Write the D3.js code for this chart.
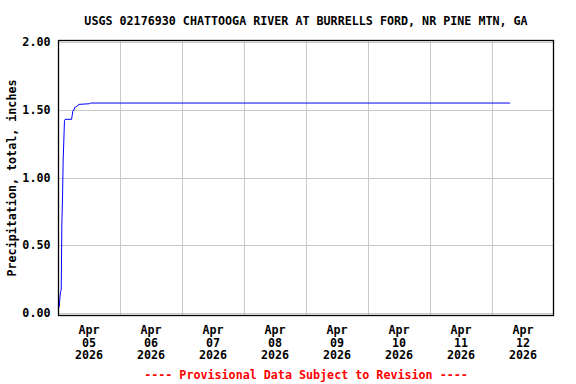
<!DOCTYPE html>
<html><head><meta charset="utf-8">
<script src="https://cdn.jsdelivr.net/npm/d3@7"></script>
<style>
html,body{margin:0;padding:0;background:#fff;}
text{font-family:"DejaVu Sans Mono","Liberation Mono",monospace;font-weight:bold;font-size:11.7px;}
</style></head>
<body>
<svg id="chart" width="576" height="384"></svg>
<script>
const title = "USGS 02176930 CHATTOOGA RIVER AT BURRELLS FORD, NR PINE MTN, GA";
const yLabel = "Precipitation, total, inches";
const footer = "---- Provisional Data Subject to Revision ----";
// times: hours after 2026-04-05 00:00
const hours = [0.25,0.5,0.75,1.0,1.25,1.5,1.75,2.0,2.25,2.5,2.75,5.25,5.5,5.75,6.0,6.25,6.5,6.75,7.5,7.75,8.0,12.25,12.5,175];
const values = [0.04,0.05,0.12,0.16,0.17,0.67,0.85,1.13,1.27,1.42,1.43,1.43,1.46,1.49,1.50,1.50,1.52,1.52,1.53,1.53,1.54,1.545,1.55,1.55];
const yTicks = [0,0.5,1,1.5,2];
const dayLabels = ["Apr\n05\n2026","Apr\n06\n2026","Apr\n07\n2026","Apr\n08\n2026","Apr\n09\n2026","Apr\n10\n2026","Apr\n11\n2026","Apr\n12\n2026"];

const start = new Date(2026,3,5,0,0);
const end = new Date(2026,3,13,0,0);
const data = hours.map((h,i)=>({t:new Date(start.getTime()+h*3600e3), v:values[i]}));

const svg = d3.select("#chart");
const L=58, R=554, T=40, B=316;
const x = d3.scaleTime().domain([start,end]).range([L,R]);
const y = d3.scaleLinear().domain([0,2]).range([313.3,42]);

// grid
const days = d3.timeDay.range(start, end).slice(1);
svg.append("g").selectAll("line").data(days).join("line")
  .attr("x1",d=>Math.round(x(d))+0.5).attr("x2",d=>Math.round(x(d))+0.5)
  .attr("y1",T).attr("y2",B).attr("stroke","#c8c8c8").attr("stroke-width",1);
svg.append("g").selectAll("line").data(yTicks).join("line")
  .attr("x1",L).attr("x2",R)
  .attr("y1",d=>Math.round(y(d))+0.5).attr("y2",d=>Math.round(y(d))+0.5)
  .attr("stroke","#c8c8c8").attr("stroke-width",1);

// line
svg.append("path").datum(data)
  .attr("fill","none").attr("stroke","#0000ff").attr("stroke-width",1)
  .attr("d", d3.line().x(d=>x(d.t)).y(d=>y(d.v)));

// frame
svg.append("rect").attr("x",L+0.5).attr("y",T+0.5).attr("width",R-L-1).attr("height",B-T-1)
  .attr("fill","none").attr("stroke","#000").attr("stroke-width",1.3);

// y tick labels
svg.append("g").selectAll("text").data(yTicks).join("text")
  .attr("x",50.5).attr("y",d=>y(d)+4).attr("text-anchor","end")
  .text(d=>d3.format(".2f")(d));

// x tick labels (centered at noon)
const noons = d3.timeDay.range(start,end).map(d=>d3.timeHour.offset(d,12));
const xl = svg.append("g").selectAll("text").data(noons).join("text")
  .attr("text-anchor","middle").attr("y",334);
xl.each(function(d,i){
  const parts = dayLabels[i].split("\n");
  d3.select(this).selectAll("tspan").data(parts).join("tspan")
    .attr("x",x(d)).attr("dy",(p,j)=>j===0?0:12.7).text(p=>p);
});

// title
svg.append("text").attr("x",(L+R)/2).attr("y",24.5).attr("text-anchor","middle").text(title);
// y label
svg.append("text").attr("transform",`translate(15.5,${(T+B)/2}) rotate(-90)`)
  .attr("text-anchor","middle").text(yLabel);
// footer
svg.append("text").attr("x",(L+R)/2).attr("y",379).attr("text-anchor","middle")
  .attr("fill","#ff0000").text(footer);
</script>
</body></html>
